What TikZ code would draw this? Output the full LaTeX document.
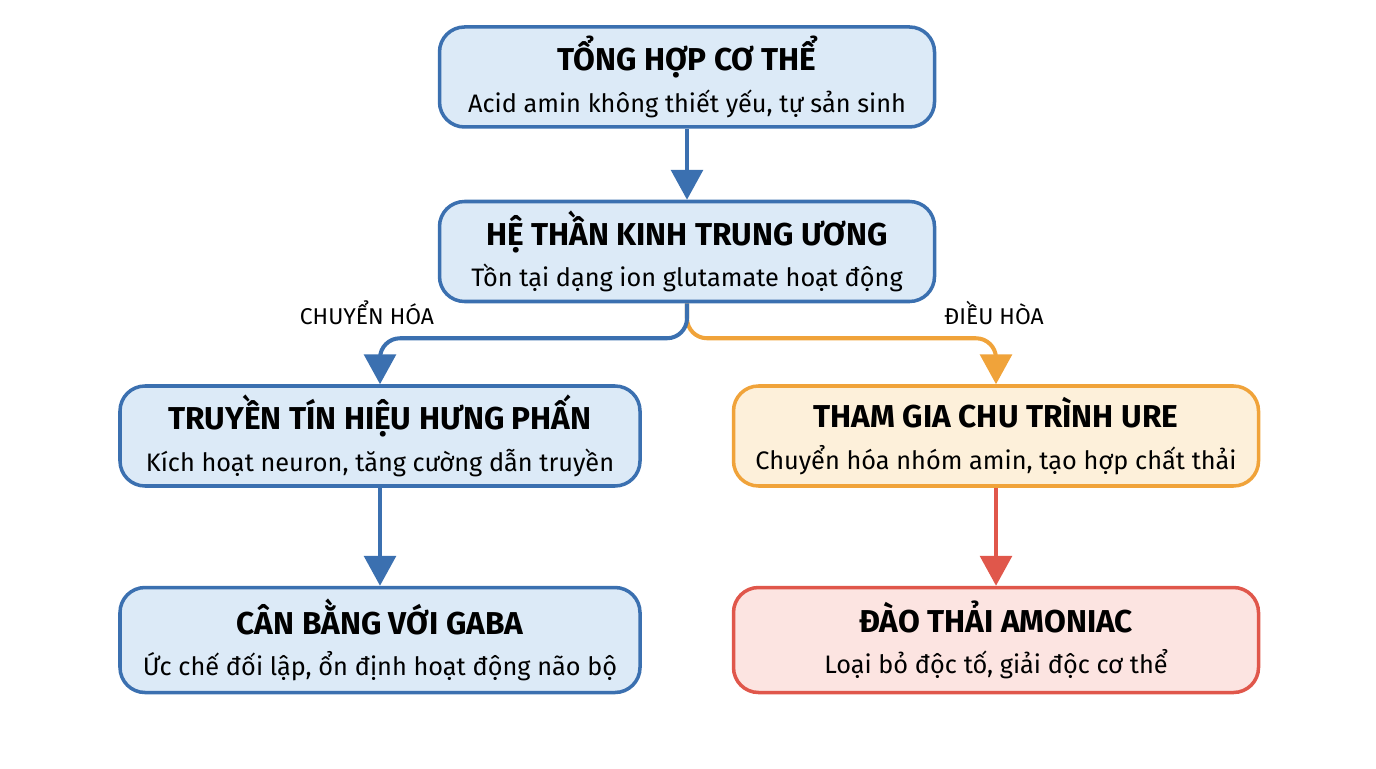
\documentclass[tikz,border=0pt]{standalone}
\usepackage{fontspec}
\setmainfont{Fira Sans}
\usetikzlibrary{positioning,arrows.meta}
\definecolor{blueline}{HTML}{3B70B0}
\definecolor{bluefill}{HTML}{DCEAF7}
\definecolor{orangeline}{HTML}{F0A33A}
\definecolor{orangefill}{HTML}{FDF0DA}
\definecolor{redline}{HTML}{E0574B}
\definecolor{redfill}{HTML}{FCE4E1}
\newcommand{\boxtext}[2]{{\fontsize{18}{23}\selectfont\bfseries #1}\\#2}

\begin{document}
\begin{tikzpicture}[
box/.style={draw,rounded corners=0.5cm,line width=2pt,minimum width=9.9cm,minimum height=2cm,align=center,font=\fontsize{14.4}{23.5}\selectfont},
bluebox/.style={box,draw=blueline,fill=bluefill},
orangebox/.style={box,draw=orangeline,fill=orangefill},
redbox/.style={box,draw=redline,fill=redfill},
flow/.style={line width=2.3pt,-{Triangle[width=18pt,length=17pt]}},
lbl/.style={font=\fontsize{13}{15}\selectfont}]
\useasboundingbox (0,0) rectangle (27.52,15.36);
\node (tong) [bluebox] at (13.74,13.82) {\boxtext{TỔNG HỢP CƠ THỂ}{Acid amin không thiết yếu, tự sản sinh}};
\node (htk) [bluebox,below=1.42cm of tong] {\boxtext{HỆ THẦN KINH TRUNG ƯƠNG}{Tồn tại dạng ion glutamate hoạt động}};
\node (truyen) [bluebox,minimum width=10.4cm] at (7.6,6.64) {\boxtext{TRUYỀN TÍN HIỆU HƯNG PHẤN}{Kích hoạt neuron, tăng cường dẫn truyền}};
\node (ure) [orangebox,minimum width=10.5cm] at (19.92,6.64) {\boxtext{THAM GIA CHU TRÌNH URE}{Chuyển hóa nhóm amin, tạo hợp chất thải}};
\node (gaba) [bluebox,minimum width=10.4cm,minimum height=2.1cm,below=1.96cm of truyen] {\boxtext{CÂN BẰNG VỚI GABA}{Ức chế đối lập, ổn định hoạt động não bộ}};
\node (amoniac) [redbox,minimum width=10.5cm,minimum height=2.1cm,below=1.96cm of ure] {\boxtext{ĐÀO THẢI AMONIAC}{Loại bỏ độc tố, giải độc cơ thể}};

\node (chuyen) [lbl] at (7.34,9.1) {CHUYỂN HÓA};
\node (dieu) [lbl] at (19.88,9.1) {ĐIỀU HÒA};

\draw [flow,blueline] (tong) -- (htk);
\draw [flow,orangeline,rounded corners=0.4cm] (htk.south) -- ++(0,-0.7) -| (ure.north);
\draw [flow,blueline,rounded corners=0.4cm] (htk.south) -- ++(0,-0.7) -| (truyen.north);
\draw [flow,blueline] (truyen) -- (gaba);
\draw [flow,redline] (ure) -- (amoniac);
\end{tikzpicture}
\end{document}
